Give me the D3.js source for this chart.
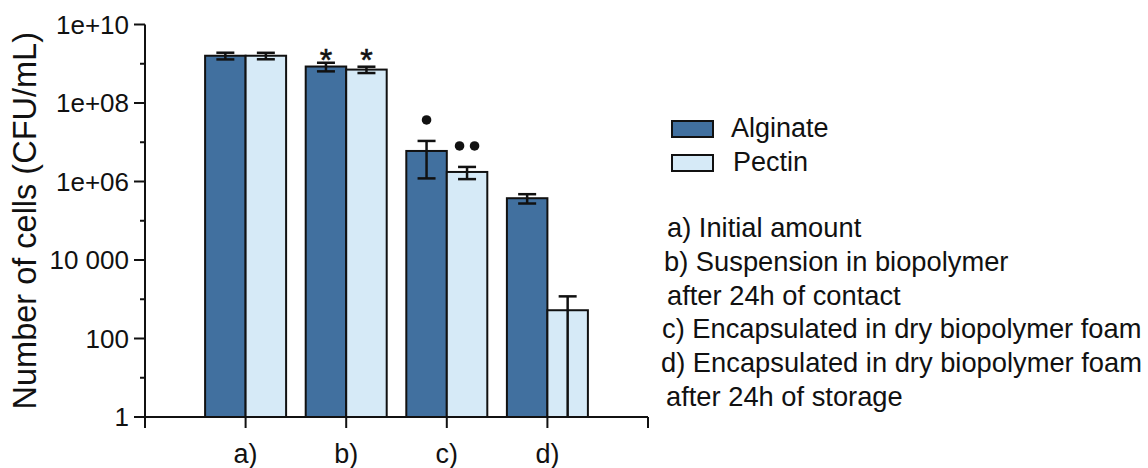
<!DOCTYPE html>
<html>
<head>
<meta charset="utf-8">
<script src="https://cdn.jsdelivr.net/npm/d3@7"></script>
<style>
  html, body { margin: 0; padding: 0; background: #fff; }
  svg { display: block; font-family: Arial, "Liberation Sans", sans-serif; }
</style>
</head>
<body>
<svg id="chart" width="1148" height="468"></svg>
<script>
const groups = ["a)", "b)", "c)", "d)"];
const seriesNames = ["Alginate", "Pectin"];
const alginateMean = [1.6e9, 8.5e8, 6.0e6, 3.75e5];
const alginateSD   = [3.1e8, 2.1e8, 4.8e6, 1.0e5];
const pectinMean   = [1.6e9, 7.1e8, 1.75e6, 525];
const pectinSD     = [3.0e8, 1.3e8, 6.0e5, 660];
const alginateStars = [0, 1, 0, 0];
const pectinStars   = [0, 1, 0, 0];
const alginateDots  = [0, 0, 1, 0];
const pectinDots    = [0, 0, 2, 0];
const majorTicks = [1, 100, 1e4, 1e6, 1e8, 1e10];
const majorLabels = ["1", "100", "10 000", "1e+06", "1e+08", "1e+10"];
const minorTicks = [10, 1e3, 1e5, 1e7, 1e9];
const notes = [
  "a) Initial amount",
  "b) Suspension in biopolymer",
  "after 24h of contact",
  "c) Encapsulated in dry biopolymer foam",
  "d) Encapsulated in dry biopolymer foam",
  "after 24h of storage"
];
const colors = ["#41709f", "#d6eaf7"];

const svg = d3.select("#chart");
const x0 = 145, x1 = 648, yTop = 24.5, yBot = 417;

const y = d3.scaleLog().domain([1, 1e10]).range([yBot, yTop]);
const x = d3.scalePoint().domain(groups).range([x0, x1]).padding(1);
const barW = 40.5;
const sub = d3.scaleBand().domain(seriesNames).range([-barW, barW]).padding(0);

const data = [];
groups.forEach((g, i) => {
  data.push({g, s: "Alginate", m: alginateMean[i], sd: alginateSD[i], stars: alginateStars[i], dots: alginateDots[i]});
  data.push({g, s: "Pectin", m: pectinMean[i], sd: pectinSD[i], stars: pectinStars[i], dots: pectinDots[i]});
});

// Bars
svg.append("g").selectAll("rect").data(data).join("rect")
  .attr("x", d => x(d.g) + sub(d.s))
  .attr("y", d => y(d.m))
  .attr("width", sub.bandwidth())
  .attr("height", d => yBot - y(d.m))
  .attr("fill", d => colors[seriesNames.indexOf(d.s)])
  .attr("stroke", "#111")
  .attr("stroke-width", 2);

// Error bars
const capW = 18;
const eg = svg.append("g").attr("stroke", "#111").attr("stroke-width", 2.5);
data.forEach(d => {
  const cx = x(d.g) + sub(d.s) + sub.bandwidth() / 2;
  const hi = y(d.m + d.sd);
  const lowVal = d.m - d.sd;
  const lo = lowVal > 1 ? y(lowVal) : yBot;
  eg.append("line").attr("x1", cx).attr("x2", cx).attr("y1", hi).attr("y2", lo);
  eg.append("line").attr("x1", cx - capW / 2).attr("x2", cx + capW / 2).attr("y1", hi).attr("y2", hi);
  if (lowVal > 1) eg.append("line").attr("x1", cx - capW / 2).attr("x2", cx + capW / 2).attr("y1", lo).attr("y2", lo);
  d.cx = cx; d.hi = hi;
});

// Significance markers
data.forEach(d => {
  if (d.stars) {
    const groupTop = d3.min(data.filter(e => e.g === d.g), e => e.hi);
    svg.append("text").attr("x", d.cx).attr("y", groupTop - 11 + 19)
      .attr("text-anchor", "middle").attr("font-size", 32).attr("fill", "#111")
      .attr("stroke", "#111").attr("stroke-width", 0.6).text("*".repeat(d.stars));
  }
  if (d.dots) {
    const sp = 15;
    for (let k = 0; k < d.dots; k++) {
      const dx = (k - (d.dots - 1) / 2) * sp;
      svg.append("circle").attr("cx", d.cx + dx).attr("cy", d.hi - 21).attr("r", 4.8).attr("fill", "#111");
    }
  }
});

// Y axis
const yAxis = svg.append("g");
yAxis.append("line").attr("x1", x0).attr("x2", x0).attr("y1", yTop).attr("y2", yBot + 1)
  .attr("stroke", "#111").attr("stroke-width", 2);
majorTicks.forEach((t, i) => {
  yAxis.append("line").attr("x1", x0 - 11).attr("x2", x0).attr("y1", y(t)).attr("y2", y(t))
    .attr("stroke", "#111").attr("stroke-width", 2);
  yAxis.append("text").attr("x", x0 - 16).attr("y", y(t)).attr("dy", "0.36em")
    .attr("text-anchor", "end").attr("font-size", 26).attr("fill", "#111").text(majorLabels[i]);
});
minorTicks.forEach(t => {
  yAxis.append("line").attr("x1", x0 - 5).attr("x2", x0).attr("y1", y(t)).attr("y2", y(t))
    .attr("stroke", "#111").attr("stroke-width", 2);
});
svg.append("text")
  .attr("transform", `translate(36, ${(yTop + yBot) / 2}) rotate(-90)`)
  .attr("text-anchor", "middle").attr("font-size", 32.5).attr("fill", "#111")
  .text("Number of cells (CFU/mL)");

// X axis
const xAxis = svg.append("g");
xAxis.append("line").attr("x1", x0 - 1).attr("x2", x1).attr("y1", yBot).attr("y2", yBot)
  .attr("stroke", "#111").attr("stroke-width", 2);
[x0, ...groups.map(g => x(g)), x1].forEach(px => {
  xAxis.append("line").attr("x1", px).attr("x2", px).attr("y1", yBot).attr("y2", yBot + 11)
    .attr("stroke", "#111").attr("stroke-width", 2);
});
groups.forEach(g => {
  xAxis.append("text").attr("x", x(g)).attr("y", 463)
    .attr("text-anchor", "middle").attr("font-size", 27).attr("fill", "#111").text(g);
});

// Legend
const lg = svg.append("g");
seriesNames.forEach((s, i) => {
  const ly = 121 + i * 34;
  lg.append("rect").attr("x", 672).attr("y", ly).attr("width", 41).attr("height", 16)
    .attr("fill", colors[i]).attr("stroke", "#111").attr("stroke-width", 2);
  lg.append("text").attr("x", i === 0 ? 731 : 733).attr("y", ly + 16)
    .attr("font-size", 27).attr("fill", "#111").text(s);
});

// Notes
const noteX = [667, 664, 667, 662, 661, 666];
notes.forEach((t, i) => {
  svg.append("text").attr("x", noteX[i]).attr("y", 237 + i * 33.8)
    .attr("font-size", 27.3).attr("fill", "#111").text(t);
});
</script>
</body>
</html>
